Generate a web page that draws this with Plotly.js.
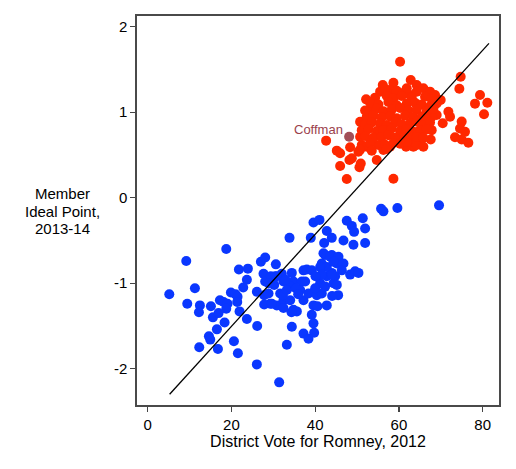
<!DOCTYPE html>
<html>
<head>
<meta charset="utf-8">
<script src="https://cdn.plot.ly/plotly-3.0.1.min.js"></script>
<style>html,body{margin:0;padding:0;background:#fff;}#chart{width:516px;height:469px;}</style>
</head>
<body>
<div id="chart"></div>
<script>
// Democrats (blue)
const demX = [5.17,9.22,11.29,9.46,12.48,12.25,15.11,15.59,17.26,18.13,19.08,18.77,16.94,18.37,16.54,14.63,14.95,12.33,16.78,20.60,21.55,26.08,31.41,18.77,19.88,20.99,21.47,21.39,21.95,22.82,21.79,23.94,23.70,23.70,26.16,26.08,27.04,28.07,30.62,27.67,28.07,29.42,30.46,32.05,32.44,30.22,28.87,34.43,34.83,34.03,37.22,38.01,36.82,36.42,27.83,28.87,29.26,30.85,32.44,31.65,34.03,34.83,35.63,37.22,38.41,40.40,41.59,39.60,39.20,39.60,39.76,41.19,42.38,44.37,42.78,43.97,44.77,41.59,42.38,43.97,45.17,42.78,34.43,33.24,37.22,38.41,55.74,56.30,59.64,69.58,39.60,41.03,38.96,33.88,42.78,43.97,47.55,48.75,51.37,51.93,49.30,46.76,49.14,51.93,42.15,41.99,43.58,45.57,44.37,41.19,41.59,43.97,37.61,46.76,46.36,48.35,49.54,50.34,45.17,40.00,45.49,44.05,40.56,42.78,34.35,32.29,33.24,35.39,35.94,30.85,27.83,29.66,32.44,32.92,39.20,40.08];
const demY = [-1.13,-0.74,-1.06,-1.24,-1.26,-1.34,-1.27,-1.40,-1.20,-1.22,-1.24,-1.30,-1.35,-1.46,-1.54,-1.62,-1.66,-1.75,-1.77,-1.68,-1.82,-1.95,-2.16,-0.60,-1.11,-1.13,-1.16,-1.22,-1.33,-1.05,-0.84,-0.83,-0.96,-1.42,-1.50,-1.10,-0.75,-0.70,-0.78,-0.89,-0.98,-0.92,-0.92,-0.89,-0.98,-1.02,-1.00,-0.88,-0.98,-1.04,-0.85,-0.84,-0.98,-1.08,-1.14,-1.12,-1.24,-1.26,-1.20,-1.12,-1.20,-1.31,-1.33,-1.20,-1.12,-1.14,-1.12,-1.26,-1.37,-1.47,-1.58,-1.00,-1.04,-1.00,-0.92,-0.88,-0.92,-0.77,-0.67,-0.67,-0.77,-0.81,-1.51,-1.72,-1.59,-1.65,-0.13,-0.16,-0.12,-0.09,-0.29,-0.26,-0.47,-0.47,-0.39,-0.47,-0.27,-0.33,-0.24,-0.36,-0.40,-0.50,-0.55,-0.53,-0.53,-0.65,-0.69,-0.69,-0.75,-0.81,-0.90,-0.90,-0.98,-0.77,-0.85,-0.90,-0.86,-0.88,-1.02,-1.06,-1.14,-1.15,-1.27,-1.26,-1.34,-1.14,-1.08,-1.06,-1.13,-0.92,-1.25,-1.24,-1.29,-0.96,-0.85,-0.92];

// Republicans (red): outlying points
const repX = [60.28,74.75,74.43,79.36,81.11,78.17,80.32,71.81,72.21,70.46,69.02,74.99,74.59,75.78,73.40,74.99,76.58,56.14,58.69,62.82,64.25,65.84,67.43,68.63,69.98,69.02,67.83,67.83,67.59,65.05,63.46,61.71,55.51,57.89,60.67,62.66,42.62,52.17,45.17,45.96,48.35,48.75,48.19,45.96,50.58,50.89,47.55,50.34,51.13,50.73,51.13,50.73,52.32,53.12,53.92,54.71,58.69,55.11,52.32,56.30,57.89,59.48,61.07,63.06,64.25,65.84];
const repY = [1.59,1.415,1.275,1.20,1.11,1.10,0.975,1.005,0.947,0.87,0.967,0.89,0.81,0.77,0.706,0.68,0.643,1.318,1.345,1.376,1.318,1.279,1.24,1.20,1.142,1.103,0.947,0.79,0.68,0.694,0.596,0.596,1.24,1.26,1.22,1.20,0.667,1.15,0.55,0.519,0.589,0.46,0.44,0.37,0.355,0.40,0.218,0.538,0.616,0.713,0.79,0.889,0.947,1.025,1.064,0.44,0.222,0.616,0.596,0.557,0.596,0.655,0.713,0.694,0.616,0.596];
// Republicans (red): dense core
const repCoreX = [56.70,59.48,61.87,64.25, 54.31,57.10,58.69,60.67,63.06,66.24,67.83, 53.12,55.11,57.49,59.48,61.87,63.85,65.44,67.43, 51.93,54.71,56.30,58.29,60.28,62.26,64.25,66.64,68.23, 53.91,55.90,57.89,59.48,61.47,63.46,65.44,66.64, 51.93,53.52,55.50,57.10,59.08,60.67,62.66,64.25,65.84,67.43, 52.72,54.71,56.30,58.29,60.28,61.87,63.46,65.05,66.64, 51.93,53.91,55.90,57.49,59.08,62.66,64.25,65.84, 53.12,56.70,58.69,60.28,61.87, 50.73,53.52,57.10];
const repCoreY = [1.27,1.25,1.28,1.24, 1.17,1.19,1.16,1.19,1.17,1.18,1.15, 1.11,1.09,1.12,1.08,1.10,1.11,1.09,1.07, 1.02,1.04,1.01,1.03,1.05,1.02,1.03,1.01,1.04, 0.96,0.94,0.95,0.93,0.96,0.94,0.95,0.92, 0.86,0.88,0.87,0.85,0.88,0.86,0.87,0.89,0.85,0.88, 0.80,0.78,0.79,0.81,0.78,0.80,0.77,0.79,0.80, 0.72,0.70,0.71,0.73,0.70,0.72,0.71,0.70, 0.64,0.62,0.64,0.63,0.65, 0.56,0.55,0.57];

// Highlighted member
const coffmanX = [48.11];
const coffmanY = [0.713];
const coffmanLabel = ["Coffman"];

// 45-degree reference line
const lineX = [5.25, 81.5];
const lineY = [-2.30, 1.805];

const xTicks = [0,20,40,60,80];
const yTicks = [-2,-1,0,1,2];
const yTitleLines = ["Member", "Ideal Point,", "2013-14"];

const font = "Liberation Sans, Arial, Helvetica, sans-serif";
const msize = 10;

const traces = [
  {x: demX, y: demY, type: 'scatter', mode: 'markers', marker: {color: '#0a37ff', size: msize}, hoverinfo: 'skip'},
  {x: repX.concat(repCoreX), y: repY.concat(repCoreY), type: 'scatter', mode: 'markers', marker: {color: '#ff2800', size: msize}, hoverinfo: 'skip'},
  {x: lineX, y: lineY, type: 'scatter', mode: 'lines', line: {color: '#000', width: 1.3}, hoverinfo: 'skip'},
  {x: coffmanX, y: coffmanY, type: 'scatter', mode: 'markers', marker: {color: '#a24f58', size: msize}, hoverinfo: 'skip'}
];

const yTitlePos = [0.5437, 0.4987, 0.4537];
const annotations = yTitleLines.map((t, i) => ({
  xref: 'paper', yref: 'paper', x: -0.206, y: yTitlePos[i], xanchor: 'center', yanchor: 'middle',
  text: t, showarrow: false, font: {family: font, size: 15, color: '#000'}
}));
annotations.push({x: coffmanX[0], y: coffmanY[0], xref: 'x', yref: 'y', text: coffmanLabel[0], showarrow: false,
  xanchor: 'right', yanchor: 'middle', xshift: -4, yshift: 7,
  font: {family: font, size: 13, color: '#9b3f4c'}});

const layout = {
  width: 516, height: 469,
  margin: {l: 137, r: 17, t: 16, b: 64},
  paper_bgcolor: '#fff', plot_bgcolor: '#fff',
  showlegend: false,
  font: {family: font, size: 14, color: '#000'},
  xaxis: {
    range: [-2.54, 83.9], tickvals: xTicks, ticktext: xTicks.map(String),
    ticks: 'outside', ticklen: 5, tickwidth: 1.2, tickcolor: '#444',
    showline: true, mirror: true, linecolor: '#4a4a4a', linewidth: 1.6,
    showgrid: false, zeroline: false,
    tickfont: {family: font, size: 15, color: '#000'},
    title: {text: 'District Vote for Romney, 2012', font: {family: font, size: 16, color: '#000'}, standoff: 2}
  },
  yaxis: {
    range: [-2.425, 2.125], tickvals: yTicks, ticktext: yTicks.map(String),
    ticks: 'outside', ticklen: 5, tickwidth: 1.2, tickcolor: '#444',
    showline: true, mirror: true, linecolor: '#4a4a4a', linewidth: 1.6,
    showgrid: false, zeroline: false,
    tickfont: {family: font, size: 15, color: '#000'}
  },
  annotations: annotations
};

Plotly.newPlot('chart', traces, layout, {displayModeBar: false, staticPlot: true});
</script>
</body>
</html>
